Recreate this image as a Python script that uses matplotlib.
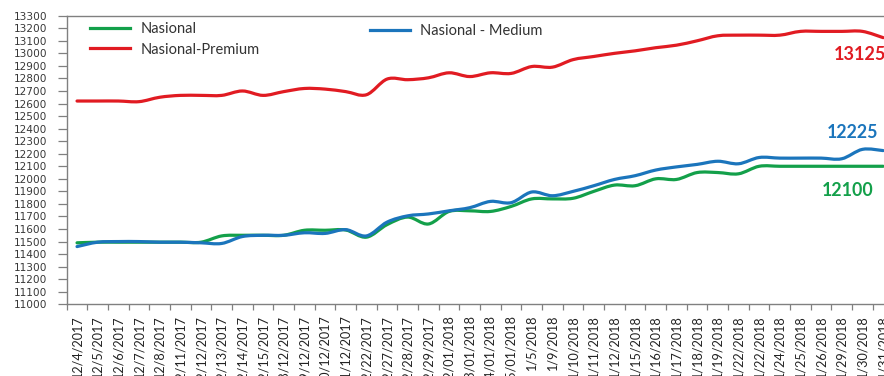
import matplotlib.pyplot as plt
from matplotlib.path import Path
from matplotlib.patches import PathPatch
from matplotlib.lines import Line2D

dates = ["12/4/2017", "12/5/2017", "12/6/2017", "12/7/2017", "12/8/2017",
         "12/11/2017", "12/12/2017", "12/13/2017", "12/14/2017", "12/15/2017",
         "18/12/2017", "19/12/2017", "20/12/2017", "21/12/2017", "12/22/2017",
         "12/27/2017", "12/28/2017", "12/29/2017", "02/01/2018", "03/01/2018",
         "04/01/2018", "05/01/2018", "1/5/2018", "1/9/2018", "1/10/2018",
         "1/11/2018", "1/12/2018", "1/15/2018", "1/16/2018", "1/17/2018",
         "1/18/2018", "1/19/2018", "1/22/2018", "1/22/2018", "1/24/2018",
         "1/25/2018", "1/26/2018", "1/29/2018", "1/30/2018", "1/31/2018"]

nasional = [11490, 11495, 11495, 11495, 11495, 11495, 11495, 11545, 11550, 11550,
            11550, 11590, 11590, 11592, 11535, 11635, 11695, 11640, 11740, 11745,
            11740, 11780, 11840, 11840, 11845, 11900, 11950, 11945, 12000, 11995,
            12050, 12050, 12040, 12100, 12100, 12100, 12100, 12100, 12100, 12100]

medium = [11460, 11495, 11500, 11500, 11495, 11495, 11490, 11485, 11540, 11550,
          11550, 11570, 11565, 11595, 11545, 11655, 11705, 11720, 11745, 11770,
          11820, 11810, 11895, 11865, 11900, 11945, 11995, 12025, 12070, 12095,
          12115, 12140, 12120, 12170, 12165, 12165, 12165, 12160, 12235, 12225]

premium = [12620, 12620, 12620, 12615, 12650, 12665, 12665, 12665, 12700, 12665,
           12695, 12720, 12715, 12695, 12670, 12795, 12790, 12805, 12845, 12815,
           12845, 12840, 12895, 12890, 12950, 12975, 13000, 13020, 13045, 13065,
           13100, 13140, 13145, 13145, 13145, 13175, 13175, 13175, 13175, 13125]

GREEN = "#13a04a"
BLUE = "#1b75bc"
RED = "#e11b22"


def smooth_path(ys):
    # cubic bezier through every point, catmull-rom style tangents
    xs = list(range(len(ys)))
    pts = list(zip(xs, ys))
    verts = [pts[0]]
    codes = [Path.MOVETO]
    n = len(pts)
    for i in range(n - 1):
        p0 = pts[max(i - 1, 0)]
        p1 = pts[i]
        p2 = pts[i + 1]
        p3 = pts[min(i + 2, n - 1)]
        c1 = (p1[0] + (p2[0] - p0[0]) / 6, p1[1] + (p2[1] - p0[1]) / 6)
        c2 = (p2[0] - (p3[0] - p1[0]) / 6, p2[1] - (p3[1] - p1[1]) / 6)
        verts += [c1, c2, p2]
        codes += [Path.CURVE4] * 3
    return Path(verts, codes)


fig = plt.figure(figsize=(8.84, 3.76), dpi=100)
ax = fig.add_axes([66.7 / 884, 71.7 / 376, 826.8 / 884, 288.6 / 376])

for ys, col in [(nasional, GREEN), (medium, BLUE), (premium, RED)]:
    ax.add_patch(PathPatch(smooth_path(ys), fill=False, edgecolor=col,
                           lw=2.3, capstyle="round", joinstyle="round"))

ax.set_xlim(-0.5, len(dates) - 0.5)
ax.set_ylim(11000, 13300)
ax.set_yticks(range(11000, 13301, 100))
ax.tick_params(axis="y", labelsize=7.6, labelcolor="#383838", length=6.5,
               width=0.9, color="#808080", pad=7.5)
for lbl in ax.get_yticklabels():
    lbl.set_fontfamily("DejaVu Sans")

ax.set_xticks(range(len(dates)))
ax.set_xticklabels(dates, rotation=90, fontfamily="Lato", fontsize=9.1,
                   color="#222222")
ax.set_xticks([i - 0.5 for i in range(len(dates) + 1)], minor=True)
ax.tick_params(axis="x", which="major", length=0, pad=7.7)
ax.tick_params(axis="x", which="minor", length=4.2, width=0.9, color="#808080")

for s in ax.spines.values():
    s.set_color("#808080")
    s.set_linewidth(1.0)

# end-of-series value labels
ax.text(37.9, 12987, "13125", color=RED, fontfamily="Lato",
        fontweight="bold", fontsize=13, ha="center", va="center")
ax.text(37.5, 12369, "12225", color=BLUE, fontfamily="Lato",
        fontweight="bold", fontsize=12.8, ha="center", va="center")
ax.text(37.3, 11907, "12100", color=GREEN, fontfamily="Lato",
        fontweight="bold", fontsize=12.8, ha="center", va="center")

leg_kw = dict(frameon=False, loc="upper left", prop={"family": "Lato", "size": 10.5},
              handlelength=2.75, handletextpad=0.7, borderpad=0, borderaxespad=0,
              labelspacing=0.45, labelcolor="#333333")
h_nas = Line2D([], [], color=GREEN, lw=2.3)
h_pre = Line2D([], [], color=RED, lw=2.3)
h_med = Line2D([], [], color=BLUE, lw=2.3)
leg1 = ax.legend([h_nas, h_pre], ["Nasional", "Nasional-Premium"],
                 bbox_to_anchor=(90 / 884, (376 - 22) / 376),
                 bbox_transform=fig.transFigure, **leg_kw)
ax.add_artist(leg1)
ax.legend([h_med], ["Nasional - Medium"],
          bbox_to_anchor=(370 / 884, (376 - 24) / 376),
          bbox_transform=fig.transFigure, **leg_kw)

fig.savefig("out.png", dpi=100)
